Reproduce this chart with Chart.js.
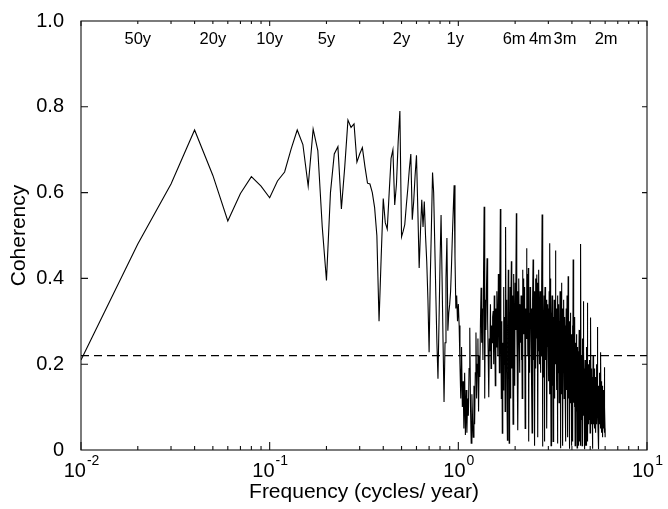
<!DOCTYPE html>
<html>
<head>
<meta charset="utf-8">
<script src="https://cdn.jsdelivr.net/npm/chart.js@4"></script>
<style>
  html, body { margin: 0; padding: 0; background: #fff; }
  #wrap { width: 668px; height: 509px; }
</style>
</head>
<body>
<div id="wrap"><canvas id="coh" width="668" height="509"></canvas></div>
<script>
// coherency estimates, one per frequency step of 0.01 cycles/year (0.01 .. 6.00)
const freqStep = 0.01;
const coherency = [
  0.21, 0.48, 0.62, 0.746, 0.64, 0.534, 0.598, 0.637, 0.615, 0.588,
  0.627, 0.648, 0.702, 0.746, 0.712, 0.615, 0.748, 0.698, 0.52, 0.395,
  0.60, 0.69, 0.707, 0.562, 0.66, 0.769, 0.752, 0.76, 0.671, 0.69,
  0.705, 0.66, 0.622, 0.62, 0.60, 0.565, 0.50, 0.30, 0.45, 0.586,
  0.53, 0.515, 0.60, 0.68, 0.70, 0.571, 0.62, 0.72, 0.79, 0.497,
  0.51, 0.525, 0.57, 0.61, 0.655, 0.69, 0.537, 0.58, 0.64, 0.687,
  0.56, 0.424, 0.51, 0.583, 0.52, 0.579, 0.50, 0.44, 0.35, 0.228,
  0.40, 0.52, 0.647, 0.60, 0.48, 0.36, 0.25, 0.166, 0.30, 0.44,
  0.548, 0.40, 0.25, 0.112, 0.25, 0.40, 0.494, 0.278, 0.32, 0.34,
  0.37, 0.43, 0.50, 0.56, 0.617, 0.45, 0.33, 0.36, 0.30, 0.34,
  0.29, 0.20, 0.12, 0.24, 0.10, 0.16, 0.05, 0.18, 0.035, 0.14,
  0.04, 0.12, 0.08, 0.19, 0.285, 0.10, 0.016, 0.13, 0.07, 0.03,
  0.15, 0.06, 0.18, 0.274, 0.12, 0.20, 0.26, 0.09, 0.22, 0.17,
  0.30, 0.378, 0.25, 0.33, 0.21, 0.40, 0.567, 0.12, 0.35, 0.28,
  0.38, 0.447, 0.30, 0.22, 0.123, 0.26, 0.23, 0.34, 0.19, 0.29,
  0.25, 0.31, 0.324, 0.20, 0.36, 0.28, 0.15, 0.33, 0.24, 0.37,
  0.30, 0.22, 0.41, 0.33, 0.18, 0.40, 0.562, 0.27, 0.12, 0.30,
  0.039, 0.25, 0.14, 0.38, 0.20, 0.31, 0.09, 0.52, 0.26, 0.35,
  0.18, 0.023, 0.29, 0.42, 0.34, 0.016, 0.22, 0.38, 0.12, 0.31,
  0.44, 0.19, 0.36, 0.27, 0.06, 0.33, 0.41, 0.24, 0.15, 0.39,
  0.28, 0.35, 0.552, 0.30, 0.22, 0.37, 0.046, 0.26, 0.40, 0.31,
  0.18, 0.34, 0.33, 0.25, 0.36, 0.21, 0.36, 0.12, 0.42, 0.30,
  0.40, 0.27, 0.35, 0.31, 0.38, 0.05, 0.33, 0.29, 0.26, 0.47,
  0.29, 0.41, 0.22, 0.34, 0.424, 0.02, 0.27, 0.32, 0.18, 0.38,
  0.30, 0.36, 0.25, 0.33, 0.15, 0.04, 0.28, 0.35, 0.444, 0.21,
  0.31, 0.24, 0.37, 0.01, 0.32, 0.27, 0.40, 0.19, 0.34, 0.409,
  0.26, 0.39, 0.30, 0.03, 0.36, 0.23, 0.42, 0.29, 0.33, 0.20,
  0.37, 0.28, 0.18, 0.34, 0.22, 0.31, 0.38, 0.549, 0.008, 0.26,
  0.40, 0.17, 0.32, 0.25, 0.36, 0.02, 0.30, 0.38, 0.21, 0.33,
  0.27, 0.35, 0.19, 0.31, 0.05, 0.28, 0.34, 0.24, 0.33, 0.16,
  0.30, 0.22, 0.37, 0.13, 0.29, 0.482, 0.18, 0.40, 0.25, 0.01,
  0.32, 0.21, 0.28, 0.36, 0.15, 0.26, 0.33, 0.02, 0.24, 0.31,
  0.19, 0.35, 0.27, 0.12, 0.30, 0.23, 0.38, 0.465, 0.20, 0.29,
  0.14, 0.33, 0.25, 0.31, 0.015, 0.27, 0.36, 0.18, 0.28, 0.22,
  0.34, 0.11, 0.26, 0.30, 0.20, 0.37, 0.004, 0.24, 0.32, 0.17,
  0.29, 0.23, 0.39, 0.13, 0.27, 0.21, 0.33, 0.01, 0.25, 0.30,
  0.18, 0.26, 0.35, 0.12, 0.28, 0.22, 0.31, 0.16, 0.24, 0.02,
  0.29, 0.20, 0.33, 0.14, 0.25, 0.19, 0.36, 0.03, 0.27, 0.22,
  0.15, 0.405, 0.21, 0.28, 0.12, 0.24, 0.003, 0.30, 0.18, 0.23,
  0.11, 0.26, 0.19, 0.32, 0.14, 0.22, 0.01, 0.27, 0.17, 0.21,
  0.13, 0.29, 0.18, 0.24, 0.02, 0.444, 0.16, 0.23, 0.11, 0.20,
  0.26, 0.10, 0.19, 0.15, 0.31, 0.01, 0.22, 0.17, 0.12, 0.25,
  0.14, 0.20, 0.09, 0.27, 0.16, 0.005, 0.21, 0.13, 0.24, 0.10,
  0.18, 0.12, 0.23, 0.01, 0.19, 0.15, 0.28, 0.02, 0.17, 0.13,
  0.21, 0.10, 0.16, 0.25, 0.01, 0.48, 0.14, 0.19, 0.07, 0.22,
  0.12, 0.17, 0.01, 0.20, 0.15, 0.11, 0.26, 0.13, 0.347, 0.08,
  0.18, 0.10, 0.23, 0.14, 0.002, 0.19, 0.12, 0.16, 0.09, 0.21,
  0.11, 0.15, 0.01, 0.18, 0.13, 0.24, 0.10, 0.14, 0.01, 0.19,
  0.12, 0.16, 0.09, 0.343, 0.14, 0.02, 0.20, 0.11, 0.15, 0.06,
  0.17, 0.10, 0.13, 0.21, 0.07, 0.14, 0.11, 0.18, 0.04, 0.12,
  0.16, 0.09, 0.13, 0.309, 0.10, 0.15, 0.06, 0.12, 0.19, 0.08,
  0.14, 0.11, 0.003, 0.17, 0.09, 0.13, 0.07, 0.22, 0.10, 0.15,
  0.06, 0.12, 0.16, 0.08, 0.11, 0.19, 0.05, 0.13, 0.09, 0.14,
  0.10, 0.17, 0.07, 0.12, 0.15, 0.04, 0.11, 0.20, 0.08, 0.13,
  0.09, 0.14, 0.06, 0.11, 0.16, 0.08, 0.287, 0.10, 0.13, 0.05,
  0.12, 0.09, 0.15, 0.07, 0.11, 0.002, 0.14, 0.08, 0.18, 0.10,
  0.13, 0.06, 0.11, 0.15, 0.08, 0.12, 0.05, 0.14, 0.09, 0.228,
  0.07, 0.12, 0.10, 0.16, 0.04, 0.11, 0.08, 0.13, 0.06, 0.15,
  0.09, 0.12, 0.03, 0.10, 0.14, 0.07, 0.11, 0.05, 0.13, 0.08,
  0.11, 0.06, 0.193, 0.09, 0.04, 0.12, 0.07, 0.10, 0.05, 0.03
];

// 95% significance level (dashed)
const sigLevel = 0.22;
const sigRange = [0.01, 10];

// period labels along the top
const periodLabels = ['50y', '20y', '10y', '5y', '2y', '1y', '6m', '4m', '3m', '2m'];
const periodFreqs = [0.02, 0.05, 0.1, 0.2, 0.5, 1, 2, 3, 4, 6];

// axis ticks
const xDecades = [0.01, 0.1, 1, 10];
const xExponents = ['-2', '-1', '0', '1'];
const xMinorMult = [2, 3, 4, 5, 6, 7, 8, 9];
const yTicks = [0, 0.2, 0.4, 0.6, 0.8, 1.0];

const fam = '"Liberation Sans", Arial, Helvetica, sans-serif';
Chart.defaults.font.family = fam;
Chart.defaults.color = '#000';

const points = coherency.map((c, i) => ({ x: (i + 1) * freqStep, y: c }));
const sigLine = sigRange.map(f => ({ x: f, y: sigLevel }));

// frame, inward ticks, tick labels for the log axis and the period labels
const framePlugin = {
  id: 'frame',
  afterDatasetsDraw(chart, args, opts) {
    const { ctx, chartArea: a, scales: { x, y } } = chart;
    ctx.save();
    ctx.strokeStyle = '#111';
    ctx.lineWidth = 1.1;
    ctx.strokeRect(a.left, a.top, a.right - a.left, a.bottom - a.top);

    ctx.beginPath();
    xDecades.forEach((d, i) => {
      const px = x.getPixelForValue(d);
      ctx.moveTo(px, a.bottom); ctx.lineTo(px, a.bottom - 8);
      ctx.moveTo(px, a.top); ctx.lineTo(px, a.top + 5);
      if (i < xDecades.length - 1) {
        xMinorMult.forEach(m => {
          const pm = x.getPixelForValue(d * m);
          ctx.moveTo(pm, a.bottom); ctx.lineTo(pm, a.bottom - 4);
          ctx.moveTo(pm, a.top); ctx.lineTo(pm, a.top + 3);
        });
      }
    });
    yTicks.slice(1, -1).forEach(v => {
      const py = y.getPixelForValue(v);
      ctx.moveTo(a.left, py); ctx.lineTo(a.left + 7, py);
      ctx.moveTo(a.right, py); ctx.lineTo(a.right - 5, py);
    });
    ctx.stroke();

    // 10^n labels
    ctx.fillStyle = '#000';
    ctx.textBaseline = 'alphabetic';
    ctx.textAlign = 'left';
    xDecades.forEach((d, i) => {
      const px = x.getPixelForValue(d);
      ctx.font = '20px ' + fam;
      const w1 = ctx.measureText('10').width;
      ctx.font = '14px ' + fam;
      const w2 = ctx.measureText(xExponents[i]).width;
      const left = px - (w1 + w2) / 2;
      ctx.font = '20px ' + fam;
      ctx.fillText('10', left, 477);
      ctx.font = '14px ' + fam;
      ctx.fillText(xExponents[i], left + w1 + 1, 465);
    });

    // periods
    ctx.font = '16.5px ' + fam;
    ctx.textAlign = 'center';
    periodLabels.forEach((t, i) => {
      const px = x.getPixelForValue(periodFreqs[i]) + (opts.nudge[i] || 0);
      ctx.fillText(t, px, 44);
    });
    ctx.restore();
  }
};

new Chart(document.getElementById('coh'), {
  type: 'line',
  data: {
    datasets: [
      {
        label: 'Coherency',
        data: points,
        borderColor: '#000',
        borderWidth: 1.1,
        pointRadius: 0,
        tension: 0,
        fill: false
      },
      {
        label: 'Significance',
        data: sigLine,
        borderColor: '#000',
        borderWidth: 1.1,
        borderDash: [8, 5],
        pointRadius: 0,
        fill: false
      }
    ]
  },
  options: {
    responsive: false,
    animation: false,
    events: [],
    layout: { padding: { left: 0, right: 21, top: 18, bottom: 0 } },
    plugins: {
      legend: { display: false },
      tooltip: { enabled: false },
      frame: { nudge: [0, 0, 0, 0, 0, -3, -1, -8, -7, 1] }
    },
    scales: {
      x: {
        type: 'logarithmic',
        min: 0.01,
        max: 10,
        ticks: { display: false },
        grid: { display: false },
        border: { display: false },
        title: {
          display: true,
          text: 'Frequency (cycles/ year)',
          font: { size: 21 },
          padding: { top: 0, bottom: 4 }
        },
        afterFit: s => { s.height = 59; }
      },
      y: {
        min: 0,
        max: 1,
        ticks: {
          stepSize: 0.2,
          padding: 9,
          font: { size: 20 },
          callback: v => v === 0 ? '0' : v.toFixed(1)
        },
        grid: { display: false },
        border: { display: false },
        title: {
          display: true,
          text: 'Coherency',
          font: { size: 21 },
          padding: { top: 7, bottom: 0 }
        },
        afterFit: s => { s.width = 81; }
      }
    }
  },
  plugins: [framePlugin]
});
</script>
</body>
</html>
